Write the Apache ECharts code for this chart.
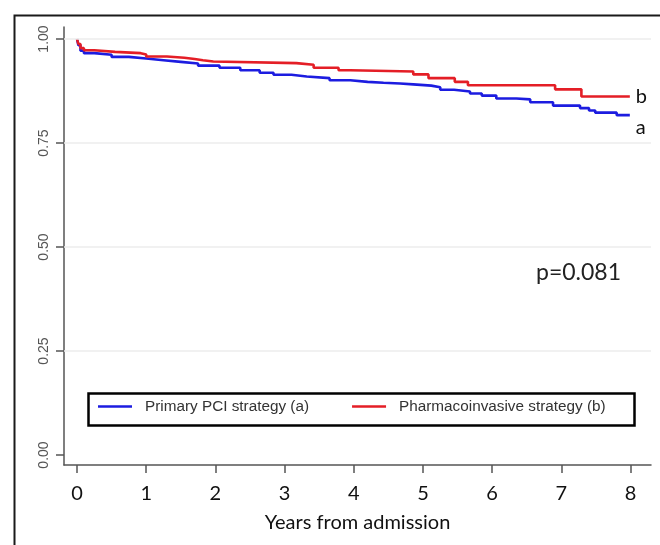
<!DOCTYPE html>
<html>
<head>
<meta charset="utf-8">
<script src="https://cdn.jsdelivr.net/npm/echarts@6/dist/echarts.min.js"></script>
<style>
html,body{margin:0;padding:0;background:#fff;}
#chart{width:660px;height:545px;}
</style>
</head>
<body>
<div id="chart"></div>
<script>
// Kaplan-Meier step points (time in years, survival)
const pciTimes  = [0, 0.02, 0.05, 0.10, 0.25, 0.50, 0.75, 1.00, 1.25, 1.50, 1.75, 2.06, 2.36, 2.64, 2.84, 3.10, 3.32, 3.65, 3.95, 4.20, 4.43, 4.67, 4.86, 5.12, 5.25, 5.45, 5.68, 5.85, 6.06, 6.35, 6.55, 6.88, 7.27, 7.40, 7.49, 7.80, 7.99];
const pciSurv   = [1.000, 0.985, 0.972, 0.966, 0.962, 0.957, 0.953, 0.949, 0.945, 0.941, 0.936, 0.931, 0.925, 0.919, 0.914, 0.910, 0.906, 0.901, 0.897, 0.895, 0.893, 0.891, 0.888, 0.884, 0.878, 0.874, 0.869, 0.864, 0.857, 0.855, 0.848, 0.840, 0.834, 0.828, 0.823, 0.817, 0.817];
const pharmTimes = [0, 0.02, 0.05, 0.10, 0.25, 0.55, 0.92, 1.00, 1.30, 1.55, 1.70, 1.82, 1.97, 3.17, 3.42, 3.78, 3.95, 4.86, 5.08, 5.46, 5.65, 6.91, 7.29, 7.99];
const pharmSurv  = [1.000, 0.988, 0.978, 0.973, 0.969, 0.966, 0.963, 0.958, 0.955, 0.952, 0.949, 0.946, 0.942, 0.938, 0.931, 0.925, 0.922, 0.915, 0.906, 0.897, 0.889, 0.879, 0.862, 0.862];
const seriesNames = ['Primary PCI strategy (a)', 'Pharmacoinvasive strategy (b)'];
const endTags = ['a', 'b'];
const xTicks = [0, 1, 2, 3, 4, 5, 6, 7, 8];
const yTicks = [0, 0.25, 0.5, 0.75, 1.0];
const gridValues = [0.25, 0.5, 0.75, 1.0];
const pText = 'p=0.081';
const xTitle = 'Years from admission';

const zip = (a, b) => a.map((v, i) => [v, b[i]]);

const chart = echarts.init(document.getElementById('chart'), null, {renderer: 'canvas'});
chart.setOption({
  animation: false,
  backgroundColor: '#fff',
  grid: {left: 64, right: 9, top: 27, bottom: 80, containLabel: false},
  xAxis: {
    type: 'value', min: -0.188, max: 8.296,
    name: xTitle, nameLocation: 'middle', nameGap: 48,
    nameTextStyle: {fontFamily: 'Lato', fontSize: 20, color: '#111'},
    axisLine: {show: true, onZero: false, lineStyle: {color: '#555', width: 1.5}},
    axisTick: {show: true, length: 8, lineStyle: {color: '#555', width: 1.5}, customValues: xTicks},
    axisLabel: {show: true, customValues: xTicks, margin: 19, fontFamily: 'Lato', fontSize: 20, color: '#111'},
    splitLine: {show: false}
  },
  yAxis: {
    type: 'value', min: -0.024, max: 1.0289,
    axisLine: {show: true, onZero: false, lineStyle: {color: '#555', width: 1.5}},
    axisTick: {show: true, length: 8, lineStyle: {color: '#555', width: 1.5}, customValues: yTicks},
    axisLabel: {show: true, customValues: yTicks, rotate: 90, margin: 13, fontFamily: 'Liberation Sans', fontSize: 14, color: '#555',
      formatter: v => v.toFixed(2)},
    splitLine: {show: false}
  },
  legend: {
    left: 98, top: 399,
    data: seriesNames,
    orient: 'horizontal',
    icon: 'rect', itemWidth: 34, itemHeight: 2.5, itemGap: 43,
    padding: 0,
    textStyle: {fontFamily: 'Liberation Sans', fontSize: 15.3, color: '#333', padding: [0, 0, 0, 8]}
  },
  graphic: [
    {type: 'rect', left: 12, top: 13, shape: {width: 700, height: 600}, style: {fill: 'none', stroke: '#1a1a1a', lineWidth: 2}, silent: true},
    {type: 'rect', left: 86, top: 391, shape: {width: 546, height: 32}, style: {fill: 'none', stroke: '#000', lineWidth: 2.5}, silent: true},
    {type: 'text', left: 536, top: 261, style: {text: pText, font: '23px Lato', fill: '#222'}}
  ],
  series: [
    {
      name: seriesNames[0], type: 'line', step: 'end', showSymbol: false, symbol: 'none',
      data: zip(pciTimes, pciSurv),
      lineStyle: {color: '#1c1ce0', width: 2.6}, itemStyle: {color: '#1c1ce0'},
      endLabel: {show: true, formatter: endTags[0], distance: 6, offset: [0, 12], fontFamily: 'Lato', fontSize: 20, color: '#111'},
      markLine: {
        silent: true, symbol: 'none', label: {show: false},
        lineStyle: {color: '#ececec', width: 1.5, type: 'solid'},
        data: gridValues.map(v => ({yAxis: v}))
      },
      z: 3
    },
    {
      name: seriesNames[1], type: 'line', step: 'end', showSymbol: false, symbol: 'none',
      data: zip(pharmTimes, pharmSurv),
      lineStyle: {color: '#e41e26', width: 2.6}, itemStyle: {color: '#e41e26'},
      endLabel: {show: true, formatter: endTags[1], distance: 6, fontFamily: 'Lato', fontSize: 20, color: '#111'},
      z: 4
    }
  ]
});
</script>
</body>
</html>
